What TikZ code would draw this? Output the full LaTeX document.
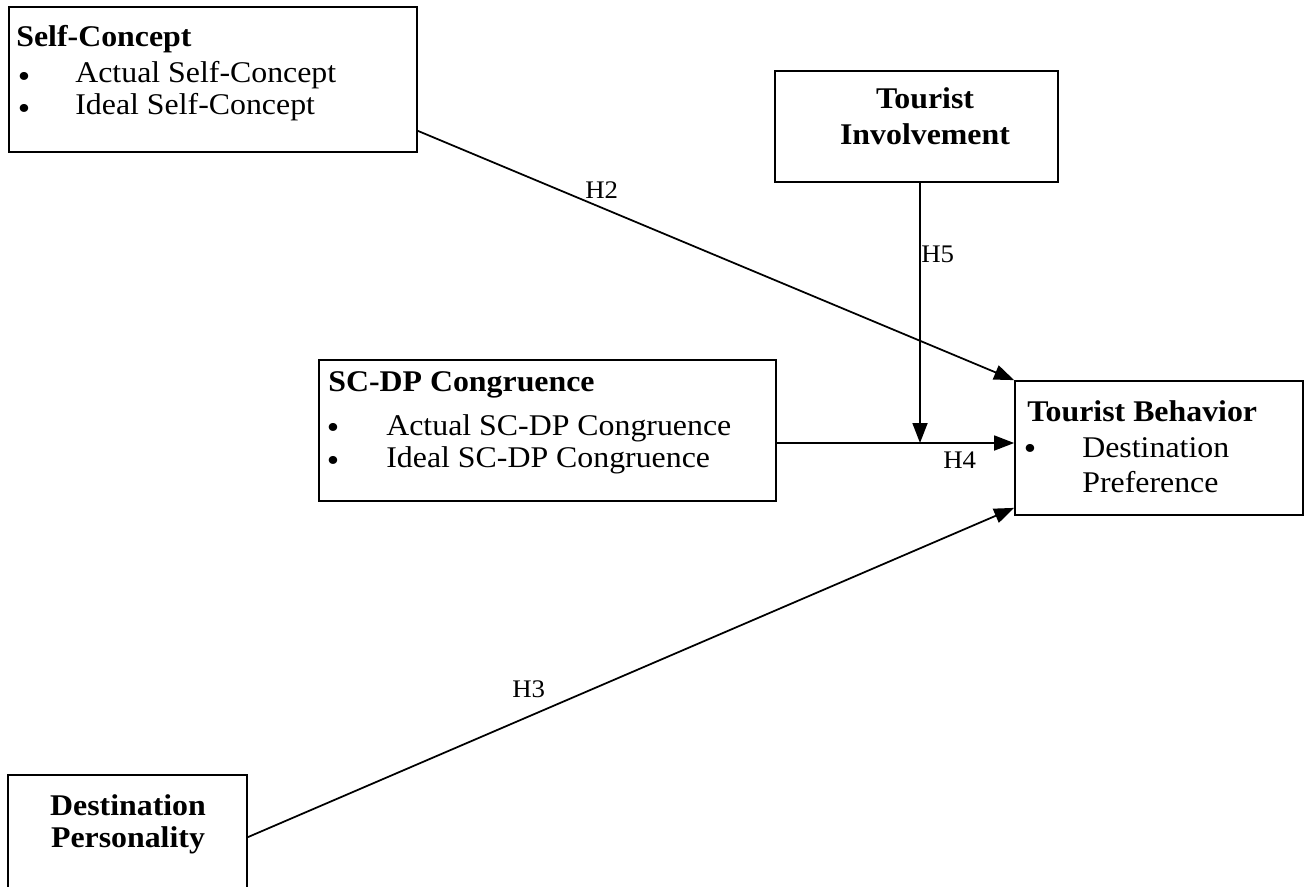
\documentclass[tikz,border=0pt]{standalone}
\usepackage{fontspec}
\setmainfont{Liberation Serif}[FakeStretch=1.06]
\usetikzlibrary{fit,calc,arrows.meta}
\newcommand{\boxwidth}{1pt}
\newcommand{\arrwidth}{1pt}
\tikzset{
  box/.style={draw, line width=\boxwidth, inner sep=0pt},
  txt/.style={inner sep=0pt, anchor=base west, font=\fontsize{17.1}{20}\selectfont},
  hd/.style={txt, font=\fontsize{17.1}{20}\selectfont\bfseries},
  hdc/.style={hd, anchor=base},
  dot/.style={inner sep=0pt, font=\fontsize{19}{22}\selectfont},
  lbl/.style={inner sep=0pt, anchor=base west, font=\fontsize{14.4}{17}\selectfont},
  arr/.style={line width=\arrwidth, -{Triangle[length=4mm,width=3mm]}}
}

\begin{document}
\begin{tikzpicture}[x=0.02cm,y=-0.02cm]
\useasboundingbox (0,0) rectangle (1308,886);
%boxes
\node[box, fit={(9,7) (417,152)}] (sc) {};
\node[box, fit={(775,71) (1058,182)}] (ti) {};
\node[box, fit={(319,360) (776,501)}] (scdp) {};
\node[box, fit={(1015,381) (1303,515)}] (tb) {};
\node[box, fit={(8,775) (247,912)}] (dp) {};
%self-concept
\node[hd] (sc0) at (16,46) {Self-Concept};
\node[dot] (sc1b) at (24,80) {\textbullet};
\node[txt] (sc1) at (75,82) {Actual Self-Concept};
\node[dot] (sc2b) at (24,112) {\textbullet};
\node[txt] (sc2) at (75,114) {Ideal Self-Concept};
%tourist involvement
\node[hdc] (ti0) at (925,108) {Tourist};
\node[hdc] (ti1) at (925,144) {Involvement};
%sc-dp congruence
\node[hd] (scdp0) at (328,391) {SC-DP Congruence};
\node[dot] (scdp1b) at (333,431) {\textbullet};
\node[txt] (scdp1) at (386,435) {Actual SC-DP Congruence};
\node[dot] (scdp2b) at (333,464) {\textbullet};
\node[txt] (scdp2) at (386,467) {Ideal SC-DP Congruence};
%tourist behavior
\node[hd] (tb0) at (1027,421) {Tourist Behavior};
\node[dot] (tb1b) at (1030,452) {\textbullet};
\node[txt] (tb1) at (1082,457) {Destination};
\node[txt] (tb2) at (1082,492) {Preference};
%destination personality
\node[hdc] (dp0) at (128,815) {Destination};
\node[hdc] (dp1) at (128,847) {Personality};
%paths
\coordinate (m) at (920,443);
\draw[arr] ($(sc.south east)+(0,-22)$) -- (tb.north west);
\draw[arr] ($(dp.north east)+(0,63)$) -- ($(tb.south west)+(0,-8)$);
\draw[arr] (scdp.east |- m) -- (tb.west |- m);
\draw[arr] (ti.south -| m) -- (m);
%labels
\node[lbl] (h2) at (585,198) {H2};
\node[lbl] (h3) at (512,697) {H3};
\node[lbl] (h4) at (943,468) {H4};
\node[lbl] (h5) at (921,262) {H5};
\end{tikzpicture}
\end{document}
